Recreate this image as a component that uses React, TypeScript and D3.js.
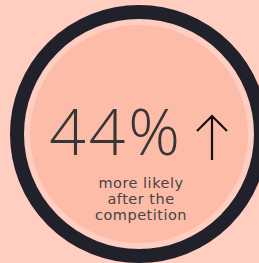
import React from "react";
import * as d3 from "d3";

const values = [44];
const valueSuffix = ["%"];
const captionLines = ["more likely", "after the", "competition"];

const W = 259;
const H = 263;

export default function App() {
  const cx = 139;
  const cy = 134;
  const rScale = d3.scaleLinear().domain([0, 1]).range([0, 129]);
  const ringOuter = rScale(1);
  const ringWidth = 14;
  const innerR = ringOuter - ringWidth - 6;
  const arrow = d3.path();
  arrow.moveTo(212, 160);
  arrow.lineTo(212, 116);
  arrow.moveTo(197, 131);
  arrow.lineTo(212, 116);
  arrow.lineTo(227, 131);
  const valueText = `${values[0]}${valueSuffix[0]}`;
  return (
    <div style={{ position: "fixed", left: 0, top: 0, width: W, height: H }}>
      <svg width={W} height={H} style={{ display: "block" }}>
        <rect width={W} height={H} fill="#FFCEC0" />
        <circle cx={cx} cy={cy} r={ringOuter - ringWidth / 2} fill="none" stroke="#21212B" strokeWidth={ringWidth} />
        <circle cx={cx} cy={cy} r={innerR} fill="#FCBCA8" />
        <text
          x={116}
          y={155}
          textAnchor="middle"
          fontFamily="'Open Sans', sans-serif"
          fontWeight={300}
          fontSize={64}
          style={{ letterSpacing: "3px" }}
          fill="#363636"
        >
          {valueText}
        </text>
        <path d={arrow.toString()} fill="none" stroke="#111" strokeWidth={2.2} strokeLinecap="butt" />
        {captionLines.map((t, i) => (
          <text
            key={i}
            x={141}
            y={188 + i * 16}
            textAnchor="middle"
            fontFamily="'DejaVu Sans', sans-serif"
            fontWeight={400}
            fontSize={14.5}
            style={{ letterSpacing: "0.5px" }}
            fill="#4A4444"
          >
            {t}
          </text>
        ))}
      </svg>
    </div>
  );
}
